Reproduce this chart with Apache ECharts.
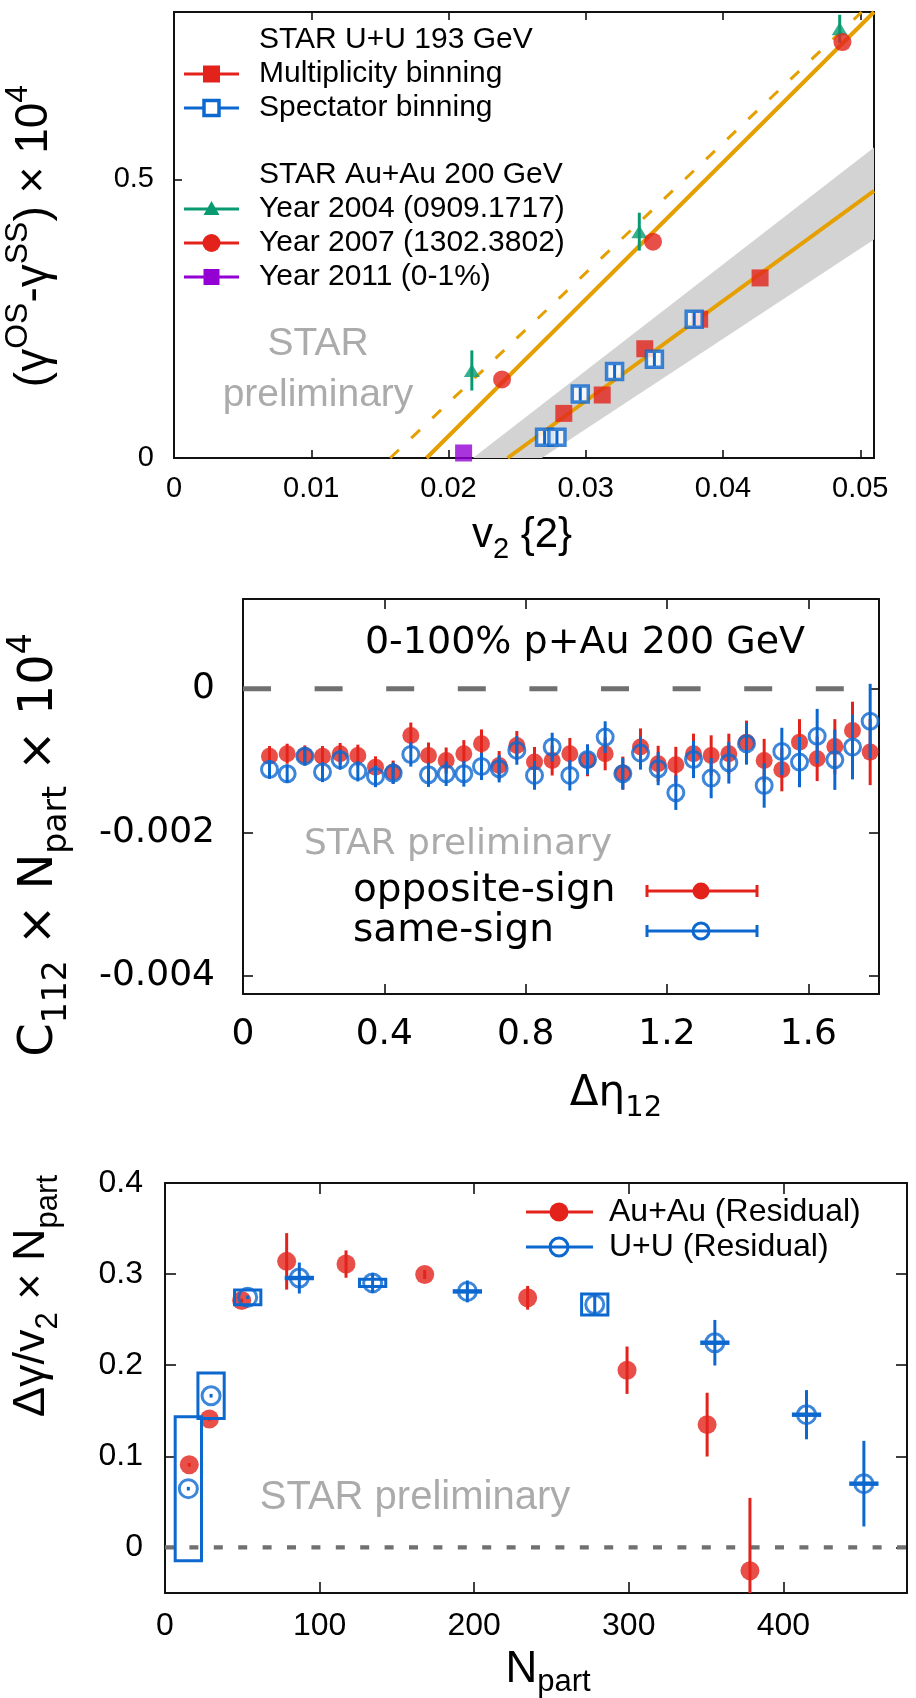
<!DOCTYPE html>
<html>
<head>
<meta charset="utf-8">
<script src="https://cdn.jsdelivr.net/npm/echarts@6/dist/echarts.min.js"></script>
<style>
  html, body { margin: 0; padding: 0; background: #ffffff; }
  #chart { width: 916px; height: 1698px; }
</style>
</head>
<body>
<div id="chart"></div>
<script>
// ---------- Panel 1: (gamma_OS - gamma_SS) x 1e4 vs v2{2} ----------
const v2Ticks = [0, 0.01, 0.02, 0.03, 0.04, 0.05];
const gammaTicks = [0, 0.5];
const uuMultV2 = [0.0284, 0.0312, 0.0343, 0.0383, 0.0427];
const uuMultG  = [0.080, 0.113, 0.196, 0.249, 0.323];
const uuSpecV2 = [0.0270, 0.0279, 0.0296, 0.0321, 0.0350, 0.0379];
const uuSpecG  = [0.037, 0.037, 0.115, 0.155, 0.177, 0.249];
const uuSpecErr = [0.012, 0.012, 0.012, 0.012, 0.012, 0.012];
const au04V2 = [0.0217, 0.0339, 0.0485];
const au04G  = [0.157, 0.406, 0.770];
const au04Err = [0.036, 0.034, 0.025];
const au07V2 = [0.0239, 0.0349, 0.0487];
const au07G  = [0.141, 0.388, 0.746];
const au11V2 = [0.0211];
const au11G  = [0.009];
const auFitLine   = [[0.0184, 0], [0.051, 0.80]];
const auFitDashed = [[0.01575, 0], [0.0501, 0.80]];
const uuFitLine   = [[0.0243, 0], [0.051, 0.479]];
const uuBandHigh  = [[0.02178, 0], [0.051, 0.557]];
const uuBandLow   = [[0.0268, 0], [0.051, 0.392]];

// ---------- Panel 2: C112 x Npart x 1e4 vs delta-eta in p+Au ----------
const detaTicks = [0, 0.4, 0.8, 1.2, 1.6];
const c112Ticks = [-0.004, -0.002, 0];
const detaBins = [0.075, 0.125, 0.175, 0.225, 0.275, 0.325, 0.375, 0.425, 0.475, 0.525,
                  0.575, 0.625, 0.675, 0.725, 0.775, 0.825, 0.875, 0.925, 0.975, 1.025,
                  1.075, 1.125, 1.175, 1.225, 1.275, 1.325, 1.375, 1.425, 1.475, 1.525,
                  1.575, 1.625, 1.675, 1.725, 1.775];
const osC112 = [-0.000938, -0.000905, -0.000928, -0.000938, -0.000905, -0.000928, -0.001091, -0.001160, -0.000650, -0.000928,
                -0.000998, -0.000905, -0.000766, -0.001067, -0.000789, -0.001021, -0.000998, -0.000905, -0.000998, -0.000905,
                -0.001174, -0.000812, -0.001044, -0.001058, -0.000905, -0.000928, -0.000905, -0.000743, -0.000998, -0.001128,
                -0.000743, -0.000975, -0.000803, -0.000580, -0.000882];
const osErr = [0.00014, 0.00014, 0.00014, 0.00014, 0.00015, 0.00015, 0.00015, 0.00016, 0.00018, 0.00018,
               0.00018, 0.00019, 0.00020, 0.00020, 0.00020, 0.00021, 0.00021, 0.00022, 0.00022, 0.00023,
               0.00023, 0.00026, 0.00025, 0.00025, 0.00028, 0.00028, 0.00028, 0.00030, 0.00030, 0.00030,
               0.00032, 0.00031, 0.00038, 0.00040, 0.00046];
const ssC112 = [-0.001123, -0.001183, -0.000938, -0.001160, -0.000988, -0.001150, -0.001220, -0.001175, -0.000914, -0.001197,
                -0.001183, -0.001183, -0.001081, -0.001114, -0.000858, -0.001206, -0.000812, -0.001206, -0.000984, -0.000673,
                -0.001183, -0.000896, -0.001113, -0.001447, -0.000984, -0.001244, -0.001030, -0.000766, -0.001346, -0.000873,
                -0.001021, -0.000660, -0.000988, -0.000812, -0.000451];
const ssErr = [0.00013, 0.00013, 0.00013, 0.00014, 0.00014, 0.00014, 0.00015, 0.00015, 0.00017, 0.00017,
               0.00017, 0.00018, 0.00019, 0.00019, 0.00020, 0.00020, 0.00020, 0.00021, 0.00021, 0.00022,
               0.00022, 0.00023, 0.00023, 0.00024, 0.00026, 0.00028, 0.00029, 0.00029, 0.00031, 0.00033,
               0.00035, 0.00038, 0.00042, 0.00045, 0.00052];

// ---------- Panel 3: residual (delta-gamma / v2) x Npart vs Npart ----------
const npartTicks = [0, 100, 200, 300, 400];
const resTicks = [0, 0.1, 0.2, 0.3, 0.4];
const auNpart = [15.7, 28.7, 49.6, 78.7, 117.1, 168.0, 234.6, 298.9, 350.7, 378.4];
const auRes   = [0.0907, 0.141, 0.271, 0.314, 0.311, 0.2995, 0.274, 0.1945, 0.1348, -0.0256];
const auResErr = [0.002, 0.002, 0.002, 0.031, 0.015, 0.005, 0.013, 0.026, 0.035, 0.080];
const uuNpart = [15.1, 29.8, 53.5, 86.9, 134.3, 195.6, 278.0, 355.7, 415.0, 452.1];
const uuRes   = [0.0645, 0.1665, 0.2745, 0.2957, 0.2903, 0.281, 0.2667, 0.2247, 0.1457, 0.070];
const uuResErr = [0.002, 0.002, 0.002, 0.017, 0.011, 0.012, 0.011, 0.025, 0.027, 0.047];
const uuResSys = [0.079, 0.025, 0.008, 0.0008, 0.004, 0.0008, 0.0115, 0.0008, 0.0008, 0.0008];

// ---------- styling ----------
const RED = '#e3231b';
const BLUE = '#0c68cf';
const GREEN = '#0a9a72';
const PURPLE = '#9400d3';
const ORANGE = '#e69f00';
const GRAY_TXT = '#ababab';
const ZERO_GRAY = '#707070';
const FONT_A = '"Liberation Sans", Arial, sans-serif';
const FONT_B = '"DejaVu Sans", sans-serif';
const SYS_HALF_W = 8.5;

const grids = [
  { left: 174, top: 12, width: 700, height: 446 },
  { left: 243, top: 599, width: 636, height: 395 },
  { left: 165, top: 1183, width: 742, height: 410 }
];

function makeAxis(gridIndex, position, min, max, ticks, tickLen, labelCfg) {
  const ax = {
    type: 'value', gridIndex, position, min, max,
    splitLine: { show: false },
    axisLine: { show: true, onZero: false, lineStyle: { color: '#111', width: 2 } },
    axisTick: { show: true, inside: true, length: tickLen, customValues: ticks,
                lineStyle: { color: '#111', width: 1.6 } },
    axisLabel: { show: false }
  };
  if (labelCfg) {
    ax.axisLabel = Object.assign({ show: true, customValues: ticks, color: '#000',
                                   formatter: v => String(v) }, labelCfg);
  }
  return ax;
}

const xAxes = [
  makeAxis(0, 'bottom', 0, 0.051, v2Ticks, 8, { fontFamily: FONT_A, fontSize: 29, margin: 16 }),
  makeAxis(0, 'top', 0, 0.051, v2Ticks, 8, null),
  makeAxis(1, 'bottom', 0, 1.8, detaTicks, 10, { fontFamily: FONT_B, fontSize: 36, margin: 23 }),
  makeAxis(1, 'top', 0, 1.8, detaTicks, 10, null),
  makeAxis(2, 'bottom', 0, 480, npartTicks, 11, { fontFamily: FONT_A, fontSize: 32, margin: 17 }),
  makeAxis(2, 'top', 0, 480, npartTicks, 11, null)
];
const yAxes = [
  makeAxis(0, 'left', 0, 0.8, gammaTicks, 8, { fontFamily: FONT_A, fontSize: 29, margin: 20 }),
  makeAxis(0, 'right', 0, 0.8, gammaTicks, 8, null),
  makeAxis(1, 'left', -0.00425, 0.00125, c112Ticks, 10, { fontFamily: FONT_B, fontSize: 36, margin: 28 }),
  makeAxis(1, 'right', -0.00425, 0.00125, c112Ticks, 10, null),
  makeAxis(2, 'left', -0.05, 0.4, resTicks, 11, { fontFamily: FONT_A, fontSize: 32, margin: 22 }),
  makeAxis(2, 'right', -0.05, 0.4, resTicks, 11, null)
];

// vertical error bars (one custom series per data set)
function errorBars(axisIdx, xs, ys, errs, color, width, z) {
  return {
    type: 'custom', xAxisIndex: axisIdx.x, yAxisIndex: axisIdx.y, clip: true, silent: true, z,
    data: xs.map((x, i) => [x, ys[i], errs[i]]),
    renderItem(params, api) {
      const x = api.value(0), y = api.value(1), e = api.value(2);
      const a = api.coord([x, y + e]), b = api.coord([x, y - e]);
      return { type: 'line', shape: { x1: a[0], y1: a[1], x2: b[0], y2: b[1] },
               style: { stroke: color, lineWidth: width } };
    }
  };
}

function scatter(axisIdx, xs, ys, symbol, size, itemStyle, z) {
  return {
    type: 'scatter', xAxisIndex: axisIdx.x, yAxisIndex: axisIdx.y, symbol, symbolSize: size,
    data: xs.map((x, i) => [x, ys[i]]), itemStyle, z, silent: true
  };
}

function fitLine(axisIdx, pts, color, width, type, z) {
  return {
    type: 'line', xAxisIndex: axisIdx.x, yAxisIndex: axisIdx.y, data: pts, showSymbol: false,
    symbol: 'none', silent: true, z, clip: true,
    lineStyle: { color, width, type }
  };
}

const P1 = { x: 0, y: 0 }, P2 = { x: 2, y: 2 }, P3 = { x: 4, y: 4 };

const series = [
  // panel 1: uncertainty band of the U+U fit
  {
    type: 'custom', xAxisIndex: 0, yAxisIndex: 0, clip: true, silent: true, z: 1, data: [0],
    renderItem(params, api) {
      const pts = uuBandHigh.concat(uuBandLow.slice().reverse()).map(p => api.coord(p));
      return { type: 'polygon', shape: { points: pts }, style: { fill: '#d3d3d3' } };
    }
  },
  fitLine(P1, auFitDashed, ORANGE, 3, [12, 17], 2),
  fitLine(P1, auFitLine, ORANGE, 4, 'solid', 2),
  fitLine(P1, uuFitLine, ORANGE, 4, 'solid', 2),
  scatter(P1, au11V2, au11G, 'rect', 17, { color: PURPLE }, 3),
  scatter(P1, uuMultV2, uuMultG, 'rect', 17, { color: RED }, 3),
  scatter(P1, uuSpecV2, uuSpecG, 'rect', 16, { color: '#ffffff', borderColor: BLUE, borderWidth: 3.5 }, 4),
  errorBars(P1, uuSpecV2, uuSpecG, uuSpecErr, BLUE, 3, 5),
  errorBars(P1, au04V2, au04G, au04Err, GREEN, 3, 4),
  scatter(P1, au04V2, au04G, 'triangle', [16, 13], { color: GREEN }, 4),
  scatter(P1, au07V2, au07G, 'circle', 18, { color: RED }, 4),

  // panel 2: zero reference
  {
    type: 'line', xAxisIndex: 2, yAxisIndex: 2, data: [[0, 0], [1.8, 0]], symbol: 'none',
    silent: true, z: 1, lineStyle: { color: ZERO_GRAY, width: 5, type: [28, 43.6] }
  },
  errorBars(P2, detaBins, osC112, osErr, RED, 3, 2),
  scatter(P2, detaBins, osC112, 'circle', 17, { color: RED }, 3),
  errorBars(P2, detaBins, ssC112, ssErr, BLUE, 3, 4),
  scatter(P2, detaBins, ssC112, 'circle', 16, { color: 'rgba(0,0,0,0)', borderColor: BLUE, borderWidth: 3 }, 5),

  // panel 3: zero reference
  {
    type: 'line', xAxisIndex: 4, yAxisIndex: 4, data: [[0, 0], [480, 0]], symbol: 'none',
    silent: true, z: 1, lineStyle: { color: ZERO_GRAY, width: 4.3, type: [9, 15.4] }
  },
  errorBars(P3, auNpart, auRes, auResErr, RED, 3, 2),
  scatter(P3, auNpart, auRes, 'circle', 19, { color: RED }, 3),
  {
    type: 'custom', xAxisIndex: 4, yAxisIndex: 4, clip: true, silent: true, z: 4,
    data: uuNpart.map((x, i) => [x, uuRes[i], uuResSys[i]]),
    renderItem(params, api) {
      const x = api.value(0), y = api.value(1), h = api.value(2);
      const a = api.coord([x - SYS_HALF_W, y + h]), b = api.coord([x + SYS_HALF_W, y - h]);
      return { type: 'rect', shape: { x: a[0], y: a[1], width: b[0] - a[0], height: b[1] - a[1] },
               style: { fill: 'none', stroke: BLUE, lineWidth: 3 } };
    }
  },
  errorBars(P3, uuNpart, uuRes, uuResErr, BLUE, 3, 5),
  scatter(P3, uuNpart, uuRes, 'circle', 18, { color: 'rgba(0,0,0,0)', borderColor: BLUE, borderWidth: 3 }, 6)
];

// ---------- legends, captions and axis titles ----------
function marker(kind, cx, cy, size, color) {
  const h = size / 2;
  if (kind === 'rect') return { type: 'rect', shape: { x: cx - h, y: cy - h, width: size, height: size }, style: { fill: color } };
  if (kind === 'openRect') return { type: 'rect', shape: { x: cx - h, y: cy - h, width: size, height: size }, style: { fill: '#fff', stroke: color, lineWidth: 3.5 } };
  if (kind === 'triangle') return { type: 'polygon', shape: { points: [[cx, cy - h], [cx + h, cy + h * 0.75], [cx - h, cy + h * 0.75]] }, style: { fill: color } };
  if (kind === 'circle') return { type: 'circle', shape: { cx, cy, r: h }, style: { fill: color } };
  return { type: 'circle', shape: { cx, cy, r: h }, style: { fill: 'none', stroke: color, lineWidth: 3 } };
}
function hline(x1, x2, y, color, w) {
  return { type: 'line', shape: { x1, y1: y, x2, y2: y }, style: { stroke: color, lineWidth: w } };
}
function vline(x, y1, y2, color, w) {
  return { type: 'line', shape: { x1: x, y1, x2: x, y2 }, style: { stroke: color, lineWidth: w } };
}
function label(x, y, text, size, family, color, align) {
  return { type: 'text', x, y, style: { text, fontSize: size, fontFamily: family, fill: color || '#000',
           align: align || 'left', verticalAlign: 'middle' } };
}
function richLabel(x, y, text, family, base, small, rotation, lineFactor) {
  const lh = base * (lineFactor || 1.4);
  const rich = {
    b: { fontSize: base, fontFamily: family, lineHeight: lh, fill: '#000' },
    sup: { fontSize: small, fontFamily: family, lineHeight: small, verticalAlign: 'top', fill: '#000' },
    sub: { fontSize: small, fontFamily: family, lineHeight: small, verticalAlign: 'bottom', fill: '#000' }
  };
  return { type: 'text', x, y, rotation: rotation || 0,
           style: { text, rich, fontSize: base, fontFamily: family, lineHeight: lh, fill: '#000',
                    align: 'center', verticalAlign: 'middle' } };
}

const topLegend = [
  { text: 'STAR U+U 193 GeV', y: 40 },
  { text: 'Multiplicity binning', y: 74, color: RED, kind: 'rect', size: 17 },
  { text: 'Spectator binning', y: 108, color: BLUE, kind: 'openRect', size: 15 },
  { text: 'STAR Au+Au 200 GeV', y: 175 },
  { text: 'Year 2004 (0909.1717)', y: 209, color: GREEN, kind: 'triangle', size: 16 },
  { text: 'Year 2007 (1302.3802)', y: 243, color: RED, kind: 'circle', size: 18 },
  { text: 'Year 2011 (0-1%)', y: 277, color: PURPLE, kind: 'rect', size: 16 }
];
const midLegend = [
  { text: 'opposite-sign', y: 891, color: RED, kind: 'circle' },
  { text: 'same-sign', y: 931, color: BLUE, kind: 'openCircle' }
];
const botLegend = [
  { text: 'Au+Au (Residual)', y: 1212, color: RED, kind: 'circle' },
  { text: 'U+U (Residual)', y: 1247, color: BLUE, kind: 'openCircle' }
];

const g = [];
topLegend.forEach(it => {
  if (it.kind) {
    g.push(hline(184, 239, it.y, it.color, 3));
    g.push(marker(it.kind, 211.5, it.y, it.size, it.color));
  }
  g.push(label(259, it.y, it.text, 30, FONT_A));
});
midLegend.forEach(it => {
  g.push(hline(647, 757, it.y, it.color, 3));
  g.push(vline(647, it.y - 6, it.y + 6, it.color, 3));
  g.push(vline(757, it.y - 6, it.y + 6, it.color, 3));
  g.push(marker(it.kind, 701, it.y, it.kind === 'circle' ? 17 : 16, it.color));
  g.push(label(353, it.y, it.text, 39, FONT_B));
});
botLegend.forEach(it => {
  g.push(hline(526, 593, it.y, it.color, 3));
  g.push(marker(it.kind, 559, it.y, it.kind === 'circle' ? 19 : 18, it.color));
  g.push(label(609, it.y, it.text, 32, FONT_A));
});

// preliminary stamps and panel caption
g.push(label(318, 344, 'STAR', 39, FONT_A, GRAY_TXT, 'center'));
g.push(label(318, 395, 'preliminary', 39, FONT_A, GRAY_TXT, 'center'));
g.push(label(458, 845, 'STAR preliminary', 36, FONT_B, GRAY_TXT, 'center'));
g.push(label(415, 1498, 'STAR preliminary', 40, FONT_A, GRAY_TXT, 'center'));
g.push(label(585, 643, '0-100% p+Au 200 GeV', 38, FONT_B, '#000', 'center'));

// axis titles with sub/superscripts
g.push(richLabel(34, 236, '{b|(γ}{sup|OS}{b|-γ}{sup|SS}{b|) × 10}{sup|4}', FONT_A, 46, 32, Math.PI / 2));
g.push(richLabel(522, 535, '{b|v}{sub|2}{b| {2}}', FONT_A, 42, 29, 0));
g.push(richLabel(40, 845, '{b|C}{sub|112}{b| × N}{sub|part}{b| × 10}{sup|4}', FONT_B, 48, 33, Math.PI / 2));
g.push(richLabel(616, 1094, '{b|Δη}{sub|12}', FONT_B, 42, 29, 0));
g.push(richLabel(32, 1296, '{b|Δγ/v}{sub|2}{b| × N}{sub|part}', FONT_A, 45, 31, Math.PI / 2));
g.push(richLabel(548, 1670, '{b|N}{sub|part}', FONT_A, 44, 31, 0, 1.25));

const chart = echarts.init(document.getElementById('chart'), null, { renderer: 'canvas', width: 916, height: 1698 });
chart.setOption({
  animation: false,
  backgroundColor: '#ffffff',
  grid: grids,
  xAxis: xAxes,
  yAxis: yAxes,
  series,
  graphic: g.map(el => Object.assign({ z: 100, silent: true }, el))
});
</script>
</body>
</html>
